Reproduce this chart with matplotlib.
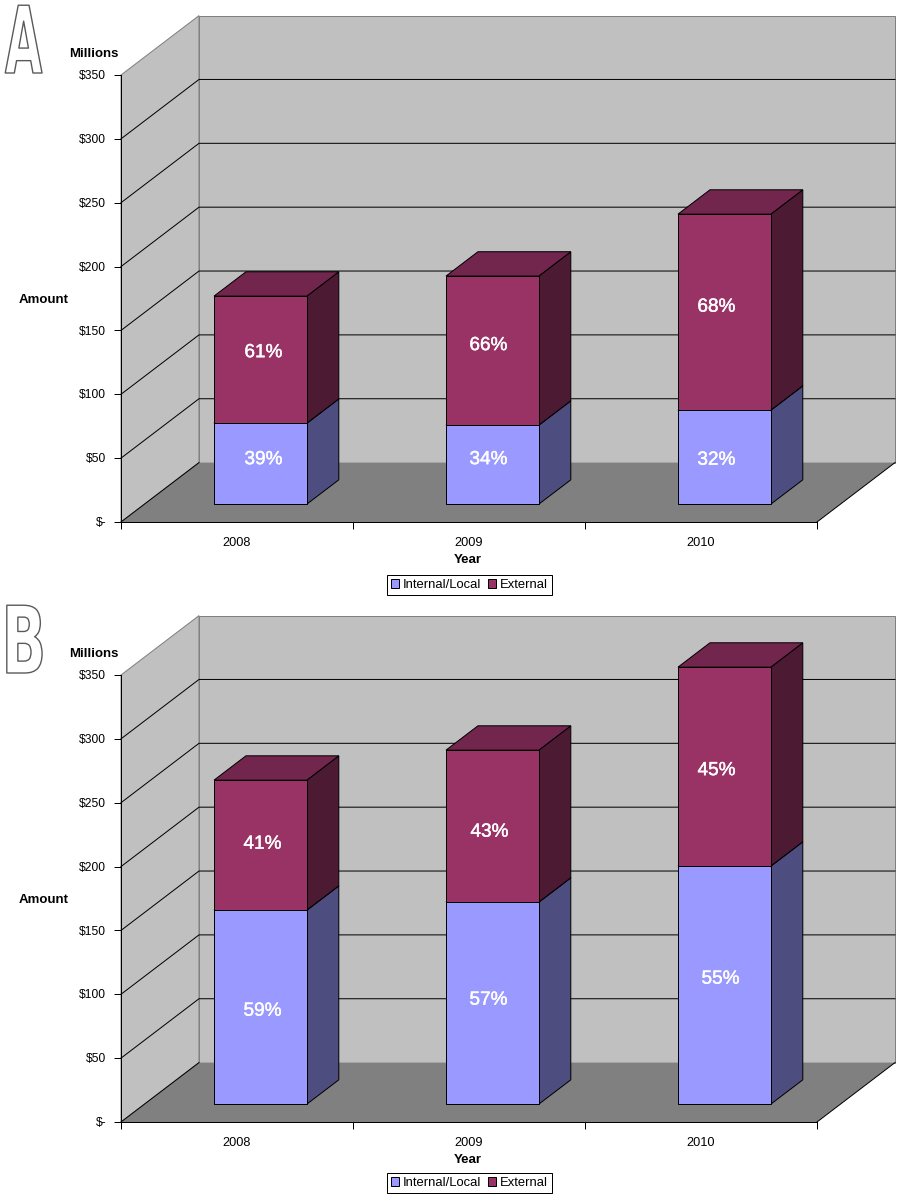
import matplotlib
matplotlib.use("Agg")
import matplotlib.pyplot as plt
from matplotlib.patches import Polygon, Patch
from matplotlib.patheffects import AbstractPathEffect, withStroke
from matplotlib.transforms import Affine2D
from matplotlib.ticker import FixedLocator

plt.rcParams['font.family'] = ['Liberation Sans', 'DejaVu Sans']

# ---- data ----
years = ['2008', '2009', '2010']
series_names = ['Internal/Local', 'External']
a_internal = [63.4, 61.9, 73.6]
a_external = [99.5, 116.7, 153.5]
a_labels_internal = ['39%', '34%', '32%']
a_labels_external = ['61%', '66%', '68%']
b_internal = [151.9, 158.2, 186.4]
b_external = [101.8, 119.0, 155.8]
b_labels_internal = ['59%', '57%', '55%']
b_labels_external = ['41%', '43%', '45%']
y_ticks = [0, 50, 100, 150, 200, 250, 300, 350]
y_tick_labels = ['$-', '$50', '$100', '$150', '$200', '$250', '$300', '$350']

# ---- style ----
W, H = 911, 1203
DPI = 100
PX = 72 / DPI
C_WALL, C_FLOOR, C_EDGE = '#C0C0C0', '#808080', '#808080'
C_FRONT = ['#9999FF', '#993366']
C_SIDE = ['#4D4D80', '#4D1A33']
C_TOP = ['#73738F', '#73264D']
AX_L, AX_W, AX_H = 121, 696, 447
DEPTH_X, DEPTH_Y = 78 / 232, 59.4 * 350 / 447   # full chart depth in data units
BAR_W, BAR_D0, BAR_D = 0.40, 0.30, 0.41

# label nudges from the face centre, in pixels (x right, y up)
A_NUDGE = [[(3, 4), (-4, 5), (-8, -3)], [(3, 7), (-4, 5), (-8, 5)]]
B_NUDGE = [[(2, -4), (-4, 3), (-4, 6)], [(2, 1), (-3, -6), (-8, -4)]]


class Stretched(AbstractPathEffect):
    """Draws text outlined and rescaled around its anchor point."""
    def __init__(self, x0, y0, sx, sy):
        super().__init__()
        self.x0, self.y0, self.sx, self.sy = x0, y0, sx, sy

    def draw_path(self, renderer, gc, tpath, affine, rgbFace=None):
        g = renderer.new_gc()
        g.copy_properties(gc)
        g.set_foreground('#5A5A5A')
        g.set_linewidth(1.0)
        aff = (affine + Affine2D().translate(-self.x0, -self.y0)
               .scale(self.sx, self.sy).translate(self.x0, self.y0))
        renderer.draw_path(g, tpath, aff, (1, 1, 1))
        g.restore()


fig = plt.figure(figsize=(W / DPI, H / DPI), dpi=DPI, facecolor='white')


def prism(ax, x0, x1, y0, y1, depth0, depth, i, z):
    """Oblique 3D box from data coordinates."""
    sx = DEPTH_X * depth0
    sy = DEPTH_Y * depth0
    ddx, ddy = DEPTH_X * depth, DEPTH_Y * depth
    xa, xb = x0 + sx, x1 + sx
    ya, yb = y0 + sy, y1 + sy
    kw = dict(closed=True, edgecolor='black', linewidth=1 * PX, clip_on=False, zorder=z, joinstyle='miter')
    ax.add_patch(Polygon([(xb, ya), (xb + ddx, ya + ddy), (xb + ddx, yb + ddy), (xb, yb)], facecolor=C_SIDE[i], **kw))
    ax.add_patch(Polygon([(xa, yb), (xa + ddx, yb + ddy), (xb + ddx, yb + ddy), (xb, yb)], facecolor=C_TOP[i], **kw))
    ax.add_patch(Polygon([(xa, ya), (xb, ya), (xb, yb), (xa, yb)], facecolor=C_FRONT[i], **kw))
    return (xa + xb) / 2, (ya + yb) / 2


def panel(top, internal, external, lab_int, lab_ext, nudge, letter, letter_x, letter_sx, letter_base, legend_cy):
    ax = fig.add_axes([AX_L / W, 1 - (top + AX_H) / H, AX_W / W, AX_H / H])
    ax.patch.set_visible(False)
    ax.set_xlim(0, 3)
    ax.set_ylim(0, 350)

    wall = dict(closed=True, clip_on=False, zorder=1, linewidth=1 * PX)
    # back wall, left wall, floor
    ax.add_patch(Polygon([(DEPTH_X, DEPTH_Y), (3 + DEPTH_X, DEPTH_Y), (3 + DEPTH_X, 350 + DEPTH_Y), (DEPTH_X, 350 + DEPTH_Y)],
                         facecolor=C_WALL, edgecolor=C_EDGE, **wall))
    ax.add_patch(Polygon([(0, 0), (DEPTH_X, DEPTH_Y), (DEPTH_X, 350 + DEPTH_Y), (0, 350)],
                         facecolor=C_WALL, edgecolor=C_EDGE, **wall))
    ax.add_patch(Polygon([(0, 0), (3, 0), (3 + DEPTH_X, DEPTH_Y), (DEPTH_X, DEPTH_Y)],
                         facecolor=C_FLOOR, edgecolor='none', **wall))
    # floor side edges and gridlines
    ax.plot([3, 3 + DEPTH_X], [0, DEPTH_Y], color='black', lw=1 * PX, clip_on=False, zorder=1.5)
    ax.plot([0, DEPTH_X], [0, DEPTH_Y], color='black', lw=1 * PX, clip_on=False, zorder=1.5)
    for v in y_ticks[1:-1]:
        ax.plot([0, DEPTH_X, 3 + DEPTH_X], [v, v + DEPTH_Y, v + DEPTH_Y], color='black', lw=1 * PX,
                clip_on=False, zorder=1.5, solid_joinstyle='miter')

    # bars
    z = 3
    for k in range(3):
        x0 = k + 0.5 - BAR_W / 2
        x1 = k + 0.5 + BAR_W / 2
        base = 0
        for i, vals in enumerate((internal, external)):
            cx, cy = prism(ax, x0, x1, base, base + vals[k], BAR_D0, BAR_D, i, z)
            z += 1
            txt = (lab_int, lab_ext)[i][k]
            ax.annotate(txt, xy=(cx, cy), xytext=nudge[i][k], xycoords='data', textcoords='offset pixels',
                        ha='center', va='center', color='white', fontsize=19 * PX, fontweight='normal',
                        zorder=50, annotation_clip=False,
                        path_effects=[withStroke(linewidth=0.3, foreground='white')])
            base += vals[k]

    # axes furniture
    for s in ('top', 'right'):
        ax.spines[s].set_visible(False)
    for s in ('left', 'bottom'):
        ax.spines[s].set_linewidth(1 * PX)
        ax.spines[s].set_zorder(2)
    ax.set_yticks(y_ticks)
    ax.set_yticklabels(y_tick_labels, fontsize=12 * PX)
    ax.tick_params(axis='y', length=7 * PX, width=1 * PX, pad=8 * PX)
    for lab in ax.get_yticklabels():
        lab.set_transform(lab.get_transform() + Affine2D().translate(0, 0.4))
    ax.xaxis.set_major_locator(FixedLocator([0, 1, 2, 3]))
    ax.xaxis.set_minor_locator(FixedLocator([0.5, 1.5, 2.5]))
    ax.set_xticklabels([])
    ax.set_xticklabels(years, minor=True, fontsize=12.8 * PX)
    ax.tick_params(axis='x', which='major', length=7 * PX, width=1 * PX)
    ax.tick_params(axis='x', which='minor', length=0, pad=14.5 * PX)

    ftxt = dict(ha='center', va='center', fontsize=13.3 * PX, fontweight='bold')
    fig.text(93.5 / W, 1 - (top - 21) / H, 'Millions', **ftxt)
    fig.text(44 / W, 1 - (top + 225) / H, 'Amount', **ftxt)
    fig.text(468 / W, 1 - (top + 485) / H, 'Year', **ftxt)

    handles = [Patch(facecolor=C_FRONT[0], edgecolor='black', linewidth=1 * PX),
               Patch(facecolor=C_FRONT[1], edgecolor='black', linewidth=1 * PX)]
    fig.legend(handles, series_names, loc='center', bbox_to_anchor=(469.5 / W, 1 - legend_cy / H),
               ncol=2, fontsize=13 * PX, fancybox=False, framealpha=1, edgecolor='black',
               borderpad=0.28, handlelength=0.6, handleheight=0.6, handletextpad=0.3,
               columnspacing=0.55, borderaxespad=0).get_frame().set_linewidth(1 * PX)

    # big outlined panel letter: small real text, drawn rescaled (pixel anchor)
    base_px = H - letter_base
    t = fig.text(letter_x / W, base_px / H, letter, ha='left', va='baseline', fontsize=56 * PX,
                 family='DejaVu Sans', fontweight='bold', color='white')
    t.set_path_effects([Stretched(letter_x, base_px, letter_sx, 1.66)])
    return ax


panel(75, a_internal, a_external, a_labels_internal, a_labels_external, A_NUDGE, 'A', 5, 0.86, 73, 585)
panel(675, b_internal, b_external, b_labels_internal, b_labels_external, B_NUDGE, 'B', 1.4, 1.05, 673, 1183)

fig.savefig('out.png', dpi=DPI, facecolor='white')
